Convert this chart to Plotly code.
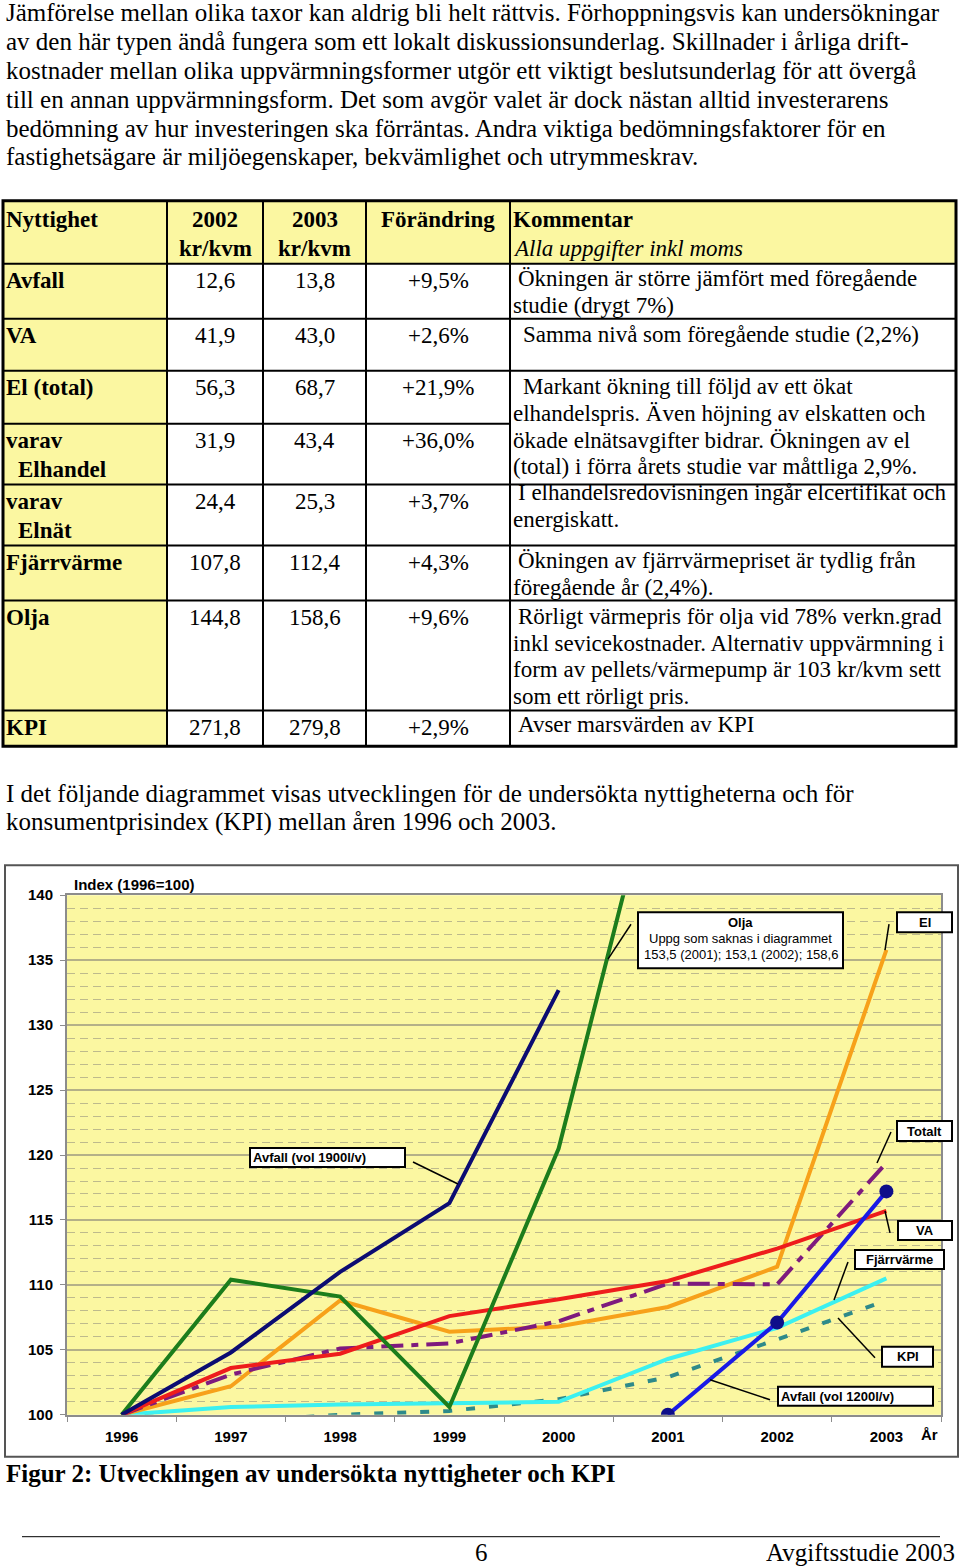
import plotly.graph_objects as go

W, H = 960, 1568
SERIF = "Liberation Serif"
SANS = "Liberation Sans"
YELLOW = "#FBF7A1"

# ---- text above the table
intro_lines = [
    "Jämförelse mellan olika taxor kan aldrig bli helt rättvis. Förhoppningsvis kan undersökningar",
    "av den här typen ändå fungera som ett lokalt diskussionsunderlag. Skillnader i årliga drift-",
    "kostnader mellan olika uppvärmningsformer utgör ett viktigt beslutsunderlag för att övergå",
    "till en annan uppvärmningsform. Det som avgör valet är dock nästan alltid investerarens",
    "bedömning av hur investeringen ska förräntas. Andra viktiga bedömningsfaktorer för en",
    "fastighetsägare är miljöegenskaper, bekvämlighet och utrymmeskrav.",
]
outro_lines = [
    "I det följande diagrammet visas utvecklingen för de undersökta nyttigheterna och för",
    "konsumentprisindex (KPI) mellan åren 1996 och 2003.",
]

# ---- table data
nyttighet = ["Avfall", "VA", "El (total)", "varav<br> Elhandel", "varav<br> Elnät",
             "Fjärrvärme", "Olja", "KPI"]
kr_2002 = ["12,6", "41,9", "56,3", "31,9", "24,4", "107,8", "144,8", "271,8"]
kr_2003 = ["13,8", "43,0", "68,7", "43,4", "25,3", "112,4", "158,6", "279,8"]
forandring = ["+9,5%", "+2,6%", "+21,9%", "+36,0%", "+3,7%", "+4,3%", "+9,6%", "+2,9%"]
kommentar = [
    [" Ökningen är större jämfört med föregående", "studie (drygt 7%)"],
    ["  Samma nivå som föregående studie (2,2%)"],
    ["  Markant ökning till följd av ett ökat", "elhandelspris. Även höjning av elskatten och",
     "ökade elnätsavgifter bidrar. Ökningen av el", "(total) i förra årets studie var måttliga 2,9%."],
    [" I elhandelsredovisningen ingår elcertifikat och", "energiskatt."],
    [" Ökningen av fjärrvärmepriset är tydlig från", "föregående år (2,4%)."],
    [" Rörligt värmepris för olja vid 78% verkn.grad", "inkl sevicekostnader. Alternativ uppvärmning i",
     "form av pellets/värmepump är 103 kr/kvm sett", "som ett rörligt pris."],
    [" Avser marsvärden av KPI"],
]

# ---- chart data (index 1996=100)
years = ["1996", "1997", "1998", "1999", "2000", "2001", "2002", "2003"]
avfall_1900 = [100, 104.8, 111.0, 116.3, 132.7]          # 1996-2000
avfall_1200 = [100, 107.1, 117.2]                        # 2001-2003
olja = [100, 110.4, 109.1, 100.6, 120.5, 153.5, 153.1, 158.6]
el = [100, 102.2, 108.8, 106.4, 106.8, 108.3, 111.4, 135.8]
va = [100, 103.6, 104.7, 107.6, 108.9, 110.3, 112.8, 115.7]
totalt = [100, 103.1, 105.1, 105.5, 107.2, 110.1, 110.05, 119.4]
fjarrvarme = [100, 100.6, 100.8, 100.9, 101.0, 104.3, 106.7, 110.5]
kpi = [100, 99.5, 100.0, 100.3, 101.2, 102.9, 105.8, 108.8]

annotations = []
shapes = []

# the page shows the figure slightly shifted/squeezed vertically; compensate
Y_OFF, Y_SC = 8.0, 0.99


def px(x):
    return x / W


def py(y):
    return 1 - ((y - Y_OFF) / Y_SC) / H


def txt(x, y, s, size=23, family=SERIF, weight="normal", style="normal", anchor="left"):
    annotations.append(dict(
        x=px(x), y=py(y), xref="paper", yref="paper", text=s, showarrow=False,
        xanchor=anchor, yanchor="middle", align=anchor if anchor != "center" else "center",
        font=dict(family=family, size=size, weight=weight, style=style, color="black")))


def rect(x0, y0, x1, y1, fill="rgba(0,0,0,0)", color="black", width=1, layer="above"):
    shapes.append(dict(type="rect", xref="paper", yref="paper", x0=px(x0), x1=px(x1),
                       y0=py(y1), y1=py(y0), fillcolor=fill, layer=layer,
                       line=dict(color=color, width=width)))


def line(x0, y0, x1, y1, color="black", width=1):
    shapes.append(dict(type="line", xref="paper", yref="paper", x0=px(x0), x1=px(x1),
                       y0=py(y0), y1=py(y1), line=dict(color=color, width=width)))


# intro paragraph
for i, s in enumerate(intro_lines):
    txt(4, 12 + i * 28.8, s, size=25)

# ---- table
cols = [3, 167, 263, 366, 510, 956]
rows = [200, 263, 318, 370, 423, 484, 545, 600, 710, 746]
rect(cols[0], rows[0], cols[-1], rows[1], fill=YELLOW, color=YELLOW, width=0, layer="below")
rect(cols[0], rows[0], cols[1], rows[-1], fill=YELLOW, color=YELLOW, width=0, layer="below")
for xc in cols[1:-1]:
    line(xc, rows[0], xc, rows[-1], width=2)
for yr in rows[1:-1]:
    if yr == 423:
        line(cols[0], yr, cols[4], yr, width=2)
    else:
        line(cols[0], yr, cols[-1], yr, width=2)
rect(cols[0], rows[0], cols[-1], rows[-1], width=3)

c2, c3, c4 = (cols[1] + cols[2]) / 2, (cols[2] + cols[3]) / 2, (cols[3] + cols[4]) / 2
txt(4, 219, "Nyttighet", weight="bold")
txt(c2, 219, "2002", weight="bold", anchor="center")
txt(c2, 248, "kr/kvm", weight="bold", anchor="center")
txt(c3, 219, "2003", weight="bold", anchor="center")
txt(c3, 248, "kr/kvm", weight="bold", anchor="center")
txt(c4, 219, "Förändring", weight="bold", anchor="center")
txt(511, 219, "Kommentar", weight="bold")
txt(511, 248, "Alla uppgifter inkl moms", style="italic")

for i, name in enumerate(nyttighet):
    y0 = rows[i + 1] + 17
    for j, part in enumerate(name.split("<br>")):
        indent = 12 if part.startswith(" ") else 0
        txt(4 + indent, y0 + j * 29, part.strip(), weight="bold")
    txt(c2, y0, kr_2002[i], anchor="center")
    txt(c3, y0, kr_2003[i], anchor="center")
    txt(c4, y0, forandring[i], anchor="center")

comment_y = [278, 334, 386, 492, 560, 616, 724]
for k, lines_ in enumerate(kommentar):
    for j, s in enumerate(lines_):
        indent = (len(s) - len(s.lstrip(" "))) * 5
        txt(511 + indent, comment_y[k] + j * 26.7, s.strip())

for i, s in enumerate(outro_lines):
    txt(4, 793 + i * 29, s, size=25)

# ---- chart
fig = go.Figure()
fig.add_trace(go.Scatter(x=years, y=kpi, mode="lines",
                         line=dict(color="#2E8A8A", width=4, dash="9px,14px")))
fig.add_trace(go.Scatter(x=years, y=fjarrvarme, mode="lines",
                         line=dict(color="#3CF0F0", width=4)))
fig.add_trace(go.Scatter(x=years, y=el, mode="lines",
                         line=dict(color="#F7A11A", width=4)))
fig.add_trace(go.Scatter(x=years, y=totalt, mode="lines",
                         line=dict(color="#7E1A7E", width=4, dash="22px,8px,7px,8px")))
fig.add_trace(go.Scatter(x=years, y=va, mode="lines",
                         line=dict(color="#EE1C1C", width=4)))
fig.add_trace(go.Scatter(x=years, y=olja, mode="lines",
                         line=dict(color="#1C7D1C", width=4)))
fig.add_trace(go.Scatter(x=years[:5], y=avfall_1900, mode="lines",
                         line=dict(color="#0C0C72", width=4)))
fig.add_trace(go.Scatter(x=years[5:], y=avfall_1200, mode="lines+markers",
                         line=dict(color="#1A1AE6", width=4),
                         marker=dict(color="#0E0E8A", size=14)))

rect(5, 865, 958, 1457, color="#555555", width=2)

txt(72, 884, "Index (1996=100)", size=15, family=SANS, weight="bold")
txt(919, 1435, "År", size=15, family=SANS, weight="bold")

callouts = [
    ("Avfall (vol 1900l/v)", (250, 1148, 405, 1167), "left", (413, 1162, 458, 1184)),
    ("El", (897, 912, 952, 932), "center", (889, 924, 885, 950)),
    ("Totalt", (897, 1121, 952, 1141), "center", (891, 1132, 877, 1163)),
    ("VA", (898, 1221, 952, 1240), "center", (890, 1233, 885, 1211)),
    ("Fjärrvärme", (855, 1250, 944, 1269), "center", (848, 1262, 834, 1300)),
    ("KPI", (882, 1347, 933, 1367), "center", (875, 1358, 838, 1318)),
    ("Avfall (vol 1200l/v)", (778, 1387, 933, 1406), "left", (770, 1400, 710, 1380)),
]
for label, (x0, y0, x1, y1), al, (lx0, ly0, lx1, ly1) in callouts:
    rect(x0, y0, x1, y1, fill="white", width=2)
    line(lx0, ly0, lx1, ly1, width=1.5)
    tx = x0 + 1 if al == "left" else (x0 + x1) / 2
    txt(tx, (y0 + y1) / 2, label, size=13, family=SANS, weight="bold", anchor=al)

# Olja note box
rect(638, 912, 843, 968, fill="white", width=2)
line(631, 924, 608, 959, width=1.5)
txt(740.5, 922, "Olja", size=13, family=SANS, weight="bold", anchor="center")
txt(740.5, 938, "Uppg som saknas i diagrammet", size=13, family=SANS, anchor="center")
txt(740.5, 954, "153,5 (2001); 153,1 (2002); 158,6", size=13, family=SANS, anchor="center")

# caption + footer
txt(4, 1474, "Figur 2: Utvecklingen av undersökta nyttigheter och KPI", size=25, weight="bold")
line(22, 1537, 940, 1537, width=1)
txt(481, 1553, "6", size=25, anchor="center")
txt(957, 1553, "Avgiftsstudie 2003", size=25, anchor="right")

axis_font = dict(family=SANS, size=15, color="black", weight="bold")
fig.update_layout(
    width=W, height=H,
    margin=dict(l=0, r=0, t=0, b=0),
    paper_bgcolor="white",
    plot_bgcolor=YELLOW,
    showlegend=False,
    annotations=annotations,
    shapes=shapes,
    xaxis=dict(
        type="category", categoryorder="array", categoryarray=years,
        domain=[px(67), px(941)], range=[-0.5, 7.5],
        tickson="boundaries", ticks="outside", ticklen=5, tickcolor="#8C8C8C",
        showgrid=False, showline=True, mirror=True, linecolor="#8C8C8C", linewidth=2,
        tickfont=axis_font, ticklabelstandoff=7, fixedrange=True,
    ),
    yaxis=dict(
        domain=[py(1415), py(895)], range=[100, 140], dtick=5,
        ticks="outside", ticklen=5, tickcolor="#8C8C8C",
        showgrid=True, gridcolor="#B4B088", gridwidth=1.5,
        minor=dict(dtick=1, showgrid=True, gridcolor="#BEBA8C", griddash="8px,5px", gridwidth=1),
        showline=True, mirror=True, linecolor="#8C8C8C", linewidth=2,
        tickfont=axis_font, ticklabelstandoff=4, zeroline=False, fixedrange=True,
    ),
)

# page margin of the browser would shift the figure; remove it
fig.write_html("out.html", config={"displayModeBar": False},
               post_script="document.body.style.margin='0';document.body.style.overflow='hidden';")
